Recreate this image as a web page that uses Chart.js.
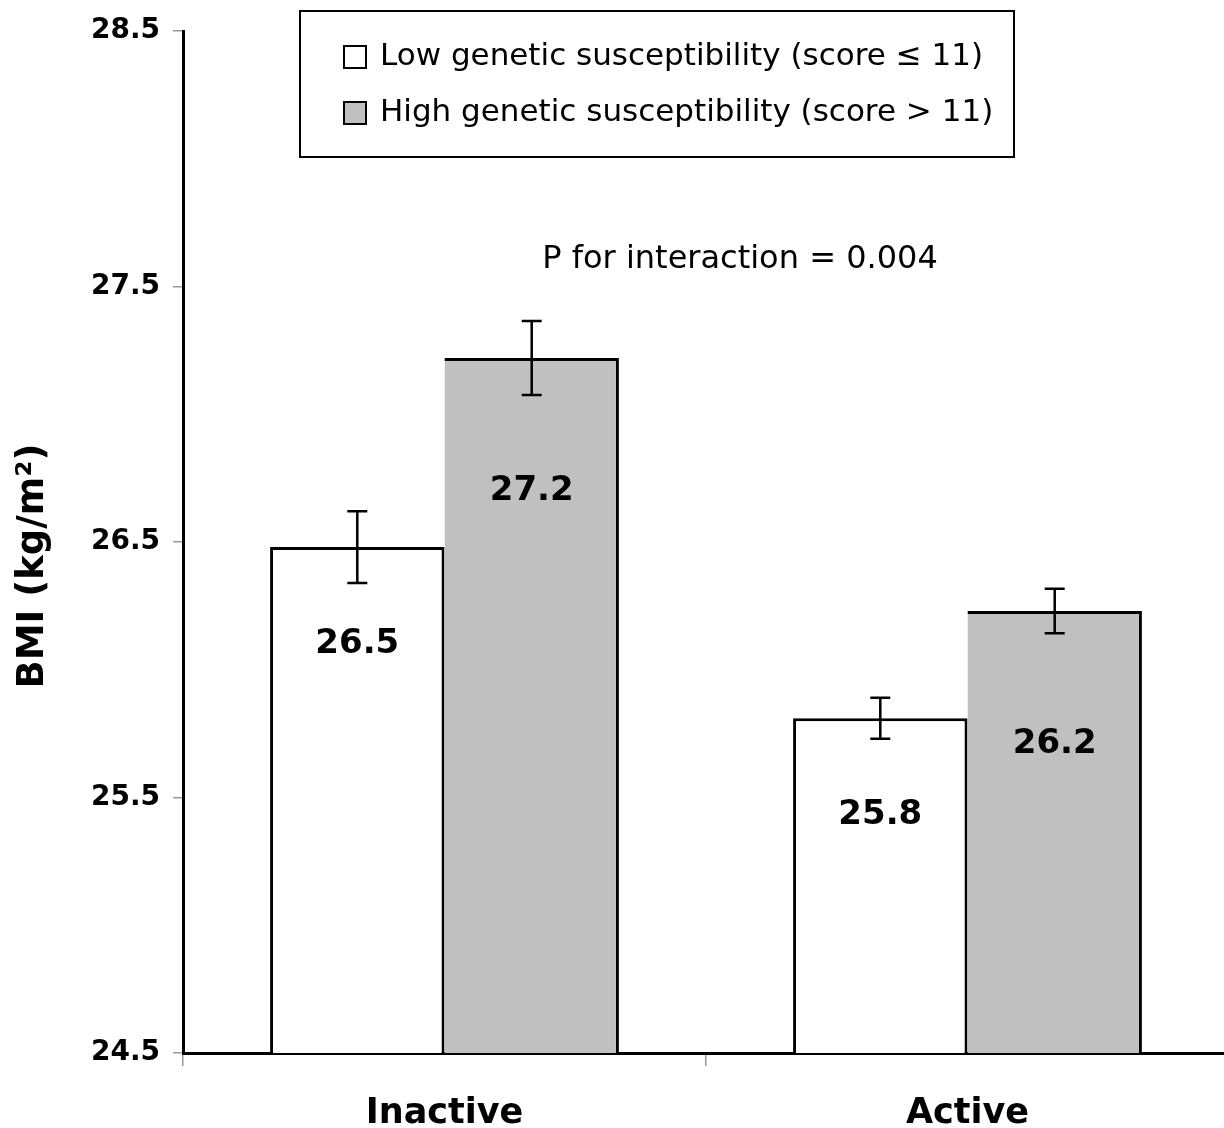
<!DOCTYPE html>
<html>
<head>
<meta charset="utf-8">
<script src="https://cdn.jsdelivr.net/npm/chart.js@4.4.1/dist/chart.umd.min.js"></script>
<style>
  html, body { margin: 0; padding: 0; background: #fff; overflow: hidden; }
  #wrap { width: 1224px; height: 1128px; overflow: hidden; }
</style>
</head>
<body>
<div id="wrap"><canvas id="bmiChart" width="1229" height="1128"></canvas></div>
<script>
// data
const groups = ["Inactive", "Active"];
const seriesNames = ["Low genetic susceptibility (score \u2264 11)", "High genetic susceptibility (score > 11)"];
const lowScore = [26.48, 25.81];
const highScore = [27.22, 26.23];
const lowErr = [0.14, 0.08];
const highErr = [0.145, 0.087];
const yTicks = [24.5, 25.5, 26.5, 27.5, 28.5];
const yTitle = "BMI (kg/m\u00b2)";
const annotation = "P for interaction = 0.004";

const FONT = "'DejaVu Sans', Verdana, sans-serif";

// error bars + value labels inside bars
const barExtras = {
  id: "barExtras",
  afterDatasetsDraw(chart) {
    const ctx = chart.ctx;
    const y = chart.scales.y;
    chart.data.datasets.forEach((ds, i) => {
      const meta = chart.getDatasetMeta(i);
      meta.data.forEach((bar, j) => {
        const v = ds.data[j];
        const e = ds.errors[j];
        const top = y.getPixelForValue(v + e);
        const bot = y.getPixelForValue(v - e);
        ctx.save();
        ctx.strokeStyle = "#000";
        ctx.lineWidth = 2.5;
        ctx.beginPath();
        ctx.moveTo(bar.x, top); ctx.lineTo(bar.x, bot);
        ctx.moveTo(bar.x - 10, top); ctx.lineTo(bar.x + 10, top);
        ctx.moveTo(bar.x - 10, bot); ctx.lineTo(bar.x + 10, bot);
        ctx.stroke();

        ctx.fillStyle = "#000";
        ctx.font = "bold 34px " + FONT;
        ctx.textAlign = "center";
        ctx.textBaseline = "middle";
        ctx.fillText(v.toFixed(1), bar.x, bar.y + ds.labelOffset);
        ctx.restore();
      });
    });
  }
};

// boxed legend, axis title and the interaction note
const boxLegend = {
  id: "boxLegend",
  afterDraw(chart) {
    const ctx = chart.ctx;
    const area = chart.chartArea;
    ctx.save();
    ctx.strokeStyle = "#000";
    ctx.lineWidth = 2;
    ctx.strokeRect(300, 11, 714, 146);
    ctx.font = "31px " + FONT;
    ctx.textBaseline = "middle";
    ctx.textAlign = "left";
    chart.data.datasets.forEach((ds, i) => {
      const cy = 57 + i * 56;
      ctx.fillStyle = ds.backgroundColor;
      ctx.fillRect(344, cy - 11, 22, 22);
      ctx.strokeRect(344, cy - 11, 22, 22);
      ctx.fillStyle = "#000";
      ctx.fillText(ds.label, 380, cy);
    });
    ctx.textAlign = "center";
    ctx.font = "32px " + FONT;
    ctx.fillText(annotation, 740, 260);

    ctx.translate(33, (area.top + area.bottom) / 2 + 24);
    ctx.rotate(-Math.PI / 2);
    ctx.font = "bold 37px " + FONT;
    ctx.fillText(yTitle, 0, 0);
    ctx.restore();
  }
};

new Chart(document.getElementById("bmiChart"), {
  type: "bar",
  data: {
    labels: groups,
    datasets: [
      {
        label: seriesNames[0],
        data: lowScore,
        errors: lowErr,
        labelOffset: 97,
        backgroundColor: "#ffffff",
        borderColor: "#000",
        borderWidth: { left: 3, top: 3, right: 3, bottom: 0 }
      },
      {
        label: seriesNames[1],
        data: highScore,
        errors: highErr,
        labelOffset: 133,
        backgroundColor: "#c0c0c0",
        borderColor: "#000",
        borderWidth: { left: 0, top: 3, right: 3, bottom: 0 }
      }
    ]
  },
  options: {
    responsive: false,
    animation: false,
    layout: { padding: { top: 31, right: 0, left: 0, bottom: 0 } },
    datasets: { bar: { categoryPercentage: 0.667, barPercentage: 1.0 } },
    plugins: {
      legend: { display: false },
      tooltip: { enabled: false }
    },
    scales: {
      x: {
        afterFit(scale) { scale.height = 75; },
        grid: { offset: true, drawOnChartArea: false, tickLength: 13, color: "#999", lineWidth: 1.5 },
        border: { color: "#000", width: 3 },
        ticks: { color: "#000", font: { family: FONT, size: 35, weight: "bold" }, padding: 27 }
      },
      y: {
        min: yTicks[0],
        max: yTicks[yTicks.length - 1],
        afterBuildTicks(scale) { scale.ticks = yTicks.map(v => ({ value: v })); },
        afterFit(scale) { scale.width = 183; },
        grid: { drawOnChartArea: false, tickLength: 10, color: "#999", lineWidth: 1.5 },
        border: { color: "#000", width: 3 },
        ticks: {
          color: "#000",
          padding: 13,
          font: { family: FONT, size: 28, weight: "bold" },
          callback: v => v.toFixed(1)
        }
      }
    }
  },
  plugins: [barExtras, boxLegend]
});
</script>
</body>
</html>
